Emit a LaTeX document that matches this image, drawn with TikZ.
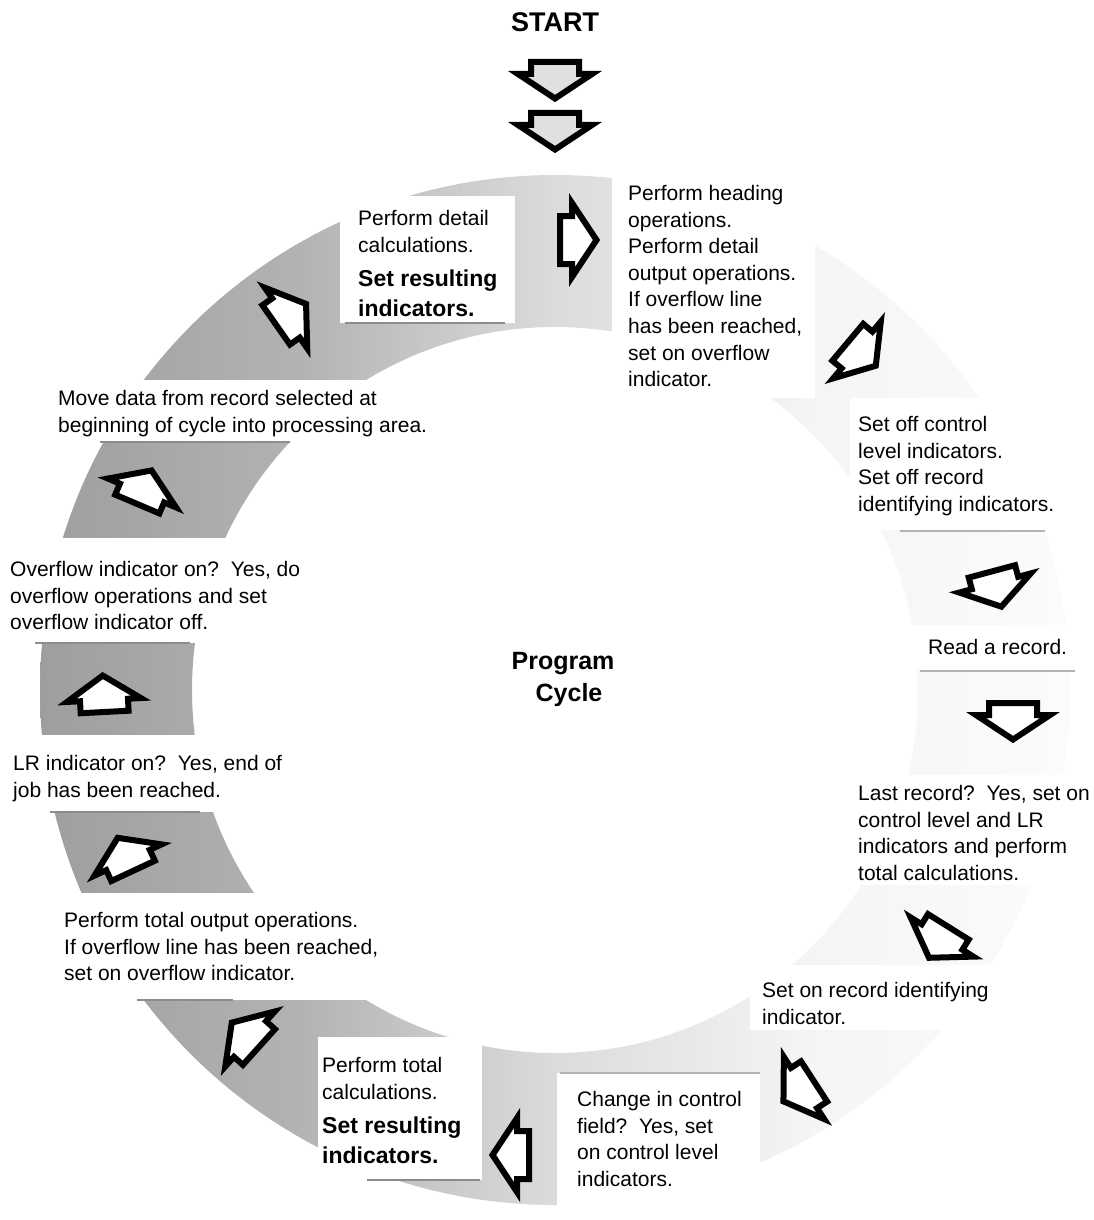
\documentclass[tikz,border=0pt]{standalone}
\usepackage{fontspec}
\setmainfont{Liberation Sans}
\pgfdeclarehorizontalshading{ringshade}{100bp}{color(0bp)=(black!38); color(25bp)=(black!38); color(37.5bp)=(black!30); color(50bp)=(black!14); color(62.5bp)=(black!4); color(75bp)=(black!1.5); color(100bp)=(black!1.5)}
\begin{document}
\begin{tikzpicture}[x=1pt,y=-1pt,
  ringarrow/.style={draw=black, line width=6pt, fill=white, line join=miter, miter limit=8},
  startarrow/.style={ringarrow, fill=black!12},
  blockarrow/.pic={\path[pic actions] (-12,-24) -- (0,-24) -- (0,-37) -- (24.5,0) -- (0,37) -- (0,24) -- (-12,24) -- cycle;},
  txt/.style={anchor=north west, align=left, inner sep=0pt, font=\fontsize{21}{26.6}\selectfont},
  txtb/.style={anchor=north west, align=left, inner sep=0pt, font=\fontsize{23}{30}\selectfont\bfseries},
  cover/.style={fill=white, draw=none},
  edgeline/.style={draw=black!45, line width=1.2pt}
]
\useasboundingbox (0,0) rectangle (1094,1220);
% halftone ring
\shade[shading=ringshade, even odd rule]
  (555,690) circle[radius=515pt] (555,690) circle[radius=363pt];
% white text areas cutting the ring
\path[cover] (340,196) rectangle (515,323);
\path[cover] (612,170) rectangle (815,398);
\path[cover] (30,380) rectangle (460,442);
\path[cover] (0,538) rectangle (350,643);
\path[cover] (0,735) rectangle (320,812);
\path[cover] (40,893) rectangle (420,1000);
\path[cover] (318,1037) rectangle (482,1180);
\path[cover] (557,1073) rectangle (760,1205);
\path[cover] (750,965) rectangle (1010,1030);
\path[cover] (850,775) rectangle (1094,885);
\path[cover] (905,625) rectangle (1094,670);
\path[cover] (850,398) rectangle (1094,530);
% patch edge lines
\draw[edgeline] (345,323) -- (505,323);
\draw[edgeline] (100,442) -- (290,442);
\draw[edgeline] (35,643) -- (190,643);
\draw[edgeline] (50,812) -- (200,812);
\draw[edgeline] (137,1000) -- (233,1000);
\draw[edgeline] (367,1180) -- (480,1180);
\draw[edgeline, draw=black!30] (560,1073) -- (760,1073);
\draw[edgeline, draw=black!30] (900,531) -- (1045,531);
\draw[edgeline, draw=black!30] (920,671) -- (1075,671);
% start
\node[font=\fontsize{27}{30}\selectfont\bfseries] (start) at (555,22) {START};
\pic[startarrow, rotate=-90] (s1) at (555,74) {blockarrow};
\pic[startarrow, rotate=-90] (s2) at (555,125) {blockarrow};
% ring arrows
\pic[ringarrow, rotate=0] (a1) at (572,240) {blockarrow};
\pic[ringarrow, rotate=-40] (a2) at (857,350) {blockarrow};
\pic[ringarrow, rotate=-75] (a3) at (995,583) {blockarrow};
\pic[ringarrow, rotate=-90] (a4) at (1013,715) {blockarrow};
\pic[ringarrow, rotate=-122] (a5) at (942,937) {blockarrow};
\pic[ringarrow, rotate=-147] (a6) at (804,1088) {blockarrow};
\pic[ringarrow, rotate=-180] (a7) at (517,1155) {blockarrow};
\pic[ringarrow, rotate=-222] (a8) at (250,1039) {blockarrow};
\pic[ringarrow, rotate=-245] (a9) at (128,860) {blockarrow};
\pic[ringarrow, rotate=-267] (a10) at (104,700) {blockarrow};
\pic[ringarrow, rotate=-293] (a11) at (142,493) {blockarrow};
\pic[ringarrow, rotate=-325] (a12) at (286,318) {blockarrow};
% texts
\node[txt] (t1) at (628,185) {Perform heading\\operations.\\Perform detail\\output operations.\\If overflow line\\has been reached,\\set on overflow\\indicator.};
\node[txt] (t2a) at (358,210) {Perform detail\\calculations.};
\node[txtb] (t2b) at (358,270) {Set resulting\\indicators.};
\node[txt] (t3) at (858,416) {Set off control\\level indicators.\\Set off record\\identifying indicators.};
\node[txt] (t4) at (928,639) {Read a record.};
\node[txt] (t5) at (858,785) {Last record?\ \ Yes, set on\\control level and LR\\indicators and perform\\total calculations.};
\node[txt] (t6) at (762,982) {Set on record identifying\\indicator.};
\node[txt] (t7) at (577,1091) {Change in control\\field?\ \ Yes, set\\on control level\\indicators.};
\node[txt] (t8a) at (322,1057) {Perform total\\calculations.};
\node[txtb] (t8b) at (322,1117) {Set resulting\\indicators.};
\node[txt] (t9) at (64,912) {Perform total output operations.\\If overflow line has been reached,\\set on overflow indicator.};
\node[txt] (t10) at (13,755) {LR indicator on?\ \ Yes, end of\\job has been reached.};
\node[txt] (t11) at (10,561) {Overflow indicator on?\ \ Yes, do\\overflow operations and set\\overflow indicator off.};
\node[txt] (t12) at (58,390) {Move data from record selected at\\beginning of cycle into processing area.};
\node[align=center, inner sep=0pt, font=\fontsize{25}{32}\selectfont\bfseries] (cyc) at (563,679) {Program\\\hspace*{12pt}Cycle};
\end{tikzpicture}
\end{document}
